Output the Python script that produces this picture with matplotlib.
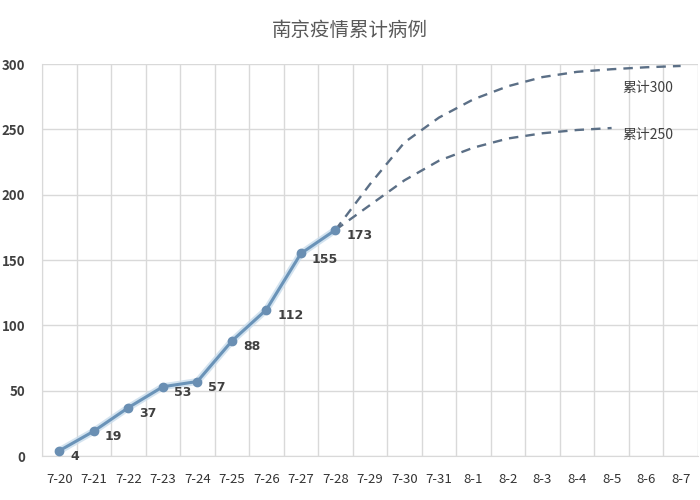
import matplotlib
matplotlib.use("Agg")
import matplotlib.pyplot as plt

plt.rcParams['font.family'] = ['Noto Sans CJK SC', 'DejaVu Sans']

dates = ["7-20", "7-21", "7-22", "7-23", "7-24", "7-25", "7-26", "7-27", "7-28", "7-29",
         "7-30", "7-31", "8-1", "8-2", "8-3", "8-4", "8-5", "8-6", "8-7"]
cases = [4, 19, 37, 53, 57, 88, 112, 155, 173]

# projections, start at 7-28
proj300 = [173, 208, 240, 259, 273, 283, 290, 294, 296, 297.5, 298.5]
proj250 = [173, 192, 211, 226, 236, 243, 247, 249.5, 251]

fig = plt.figure(figsize=(7, 5), dpi=100)
ax = fig.add_axes([0.06, 0.088, 0.937, 0.784])

x = list(range(len(cases)))
x300 = list(range(8, 8 + len(proj300)))
x250 = list(range(8, 8 + len(proj250)))

ax.plot(x300, proj300, color="#5b6f86", lw=1.7, dashes=(4, 3))
ax.plot(x250, proj250, color="#5b6f86", lw=1.7, dashes=(4, 3))
ax.plot(x, cases, color="#c9dcec", lw=5, alpha=0.8, zorder=3)
ax.plot(x, cases, color="#6a93b8", lw=2.2, marker="o", ms=6,
        mfc="#6a8fb3", mec="#6a8fb3", zorder=4)

for xi, v in zip(x, cases):
    ax.annotate(str(v), (xi, v), xytext=(8, -4), textcoords="offset points",
                ha="left", va="center", fontsize=9, fontweight="bold",
                color="#404040", family="DejaVu Sans", zorder=5)

ax.text(16.3, 282, "累计300", fontsize=10, color="#404040", va="center")
ax.text(16.3, 246, "累计250", fontsize=10, color="#404040", va="center")

ax.set_xlim(-0.5, len(dates) - 0.5)
ax.set_ylim(0, 300)
ax.set_yticks(range(0, 301, 50))
ax.set_xticks(range(len(dates)))
ax.set_xticklabels(dates)
ax.set_xticks([i - 0.5 for i in range(len(dates) + 1)], minor=True)

ax.grid(True, axis="y", color="#d9d9d9", lw=1)
ax.grid(True, axis="x", which="minor", color="#d9d9d9", lw=1)
ax.set_axisbelow(True)
for s in ["top", "right"]:
    ax.spines[s].set_visible(False)
ax.spines["left"].set_color("#d9d9d9")
ax.spines["bottom"].set_color("#d9d9d9")
ax.tick_params(axis="both", which="both", length=0)
ax.tick_params(axis="x", pad=12, labelsize=9.5, labelcolor="#333333")
ax.tick_params(axis="y", pad=12, labelsize=9.5, labelcolor="#404040")
for lbl in ax.get_yticklabels():
    lbl.set_fontweight("bold")

fig.text(0.5, 0.94, "南京疫情累计病例", ha="center", va="center",
         fontsize=14, color="#595959")

fig.savefig("out.png", dpi=100)
